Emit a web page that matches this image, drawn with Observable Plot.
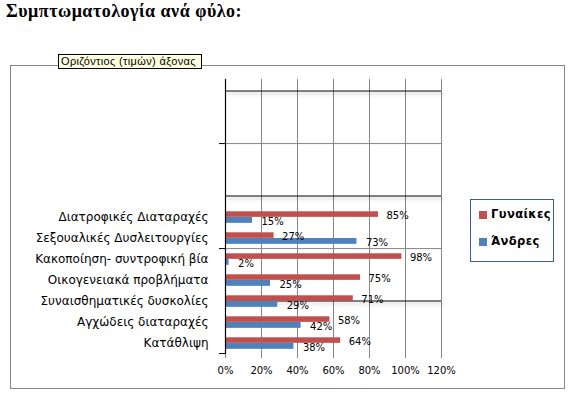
<!DOCTYPE html>
<html>
<head>
<meta charset="utf-8">
<script src="https://cdn.jsdelivr.net/npm/d3@7"></script>
<script src="https://cdn.jsdelivr.net/npm/@observablehq/plot@0.6"></script>
<style>
  html, body { margin: 0; padding: 0; background: #fff; }
  #wrap { position: relative; width: 575px; height: 393px; overflow: hidden; }
  #title { position: absolute; left: 6px; top: 1px; font: bold 18px "Liberation Serif", serif; letter-spacing: 0.5px; color: #000; white-space: nowrap; }
  #frame { position: absolute; left: 10px; top: 65px; width: 553px; height: 322px; border: 1px solid #868686; }
  #chart { position: absolute; left: 0; top: 0; }
  #tip { position: absolute; left: 58px; top: 54px; width: 140px; height: 13px; background: #FFFFE1; border: 1px solid #000;
         font: 11px "Liberation Sans", sans-serif; letter-spacing: 0.35px; line-height: 13px; padding-left: 2px; white-space: nowrap; }
  #legend { position: absolute; left: 470px; top: 199px; width: 82px; height: 61px; border: 1px solid #3B5E8C; background: #fff;
            font: bold 11.5px "DejaVu Sans", sans-serif; letter-spacing: 0.4px; }
  .item { position: absolute; left: 8px; height: 12px; line-height: 12px; white-space: nowrap; }
  .sw { display: inline-block; width: 8px; height: 8px; margin-right: 4px; vertical-align: -1px; }
</style>
</head>
<body>
<div id="wrap">
  <div id="title"></div>
  <div id="frame"></div>
  <div id="chart"></div>
  <div id="tip"></div>
  <div id="legend"></div>
</div>
<script>
// ---- data ----
const title = "Συμπτωματολογία ανά φύλο:";
const tipText = "Οριζόντιος (τιμών) άξονας";
const categories = [
  "Διατροφικές Διαταραχές",
  "Σεξουαλικές Δυσλειτουργίες",
  "Κακοποίηση- συντροφική βία",
  "Οικογενειακά προβλήματα",
  "Συναισθηματικές δυσκολίες",
  "Αγχώδεις διαταραχές",
  "Κατάθλιψη"
];
const women = [0.85, 0.27, 0.98, 0.75, 0.71, 0.58, 0.64];
const men   = [0.15, 0.73, 0.02, 0.25, 0.29, 0.42, 0.38];
const seriesNames = ["Γυναίκες", "Άνδρες"];
const seriesColors = ["#C0504D", "#4F81BD"];
const xTicks = [0, 0.2, 0.4, 0.6, 0.8, 1.0, 1.2];
// empty rows of the (glitched) category axis above the bars
const emptyRows = ["e1", "e2", "e3", "e4", "e5", "e6"];
const rows = [...emptyRows, ...categories];
// leftover lines of the glitched render
const blackLineRows = [emptyRows[0], emptyRows[5], categories[4]];
const tickRows = [emptyRows[2], categories[1], categories[6]];
const grayLineRows = [emptyRows[2], categories[1]];

// ---- build ----
document.getElementById("title").textContent = title;
document.getElementById("tip").textContent = tipText;

const W = 575, H = 393;
const mTop = 79, mBottom = 39, mLeft = 225, mRight = 134;
const step = (H - mTop - mBottom) / rows.length;
const pct = d3.format(".0%");

const womenData = categories.map((c, i) => ({c, v: women[i]}));
const menData = categories.map((c, i) => ({c, v: men[i]}));

const chart = Plot.plot({
  width: W, height: H,
  marginTop: mTop, marginBottom: mBottom, marginLeft: mLeft, marginRight: mRight,
  style: {fontFamily: "DejaVu Sans, sans-serif", fontSize: "10px", background: "transparent", color: "#000"},
  x: {domain: [0, 1.2], axis: null},
  y: {domain: rows, type: "band", padding: 0, axis: null},
  marks: [
    Plot.ruleX(xTicks.slice(1), {stroke: "#868686", strokeWidth: 1}),
    Plot.axisX(xTicks, {anchor: "bottom", label: null, tickFormat: pct, tickSize: 4, tickPadding: 8, stroke: "#868686", fill: "#000", fontSize: 10}),
    Plot.ruleY(grayLineRows, {dy: step / 2, stroke: "#868686", strokeWidth: 1}),
    Plot.ruleY(blackLineRows, {dy: 3.5, dx: 3, stroke: "#000", strokeOpacity: 0.025, strokeWidth: 6}),
    Plot.ruleY(blackLineRows, {dy: 2.5, dx: 2, stroke: "#000", strokeOpacity: 0.04, strokeWidth: 3}),
    Plot.ruleY(blackLineRows, {stroke: "#000", strokeWidth: 1.2}),
    Plot.barX(womenData, {x: "v", y: "c", fill: seriesColors[0], insetTop: 5.3, insetBottom: 10.15}),
    Plot.barX(menData, {x: "v", y: "c", fill: seriesColors[1], insetTop: 11, insetBottom: 4.15}),
    Plot.text(womenData, {x: "v", y: "c", text: d => pct(d.v), textAnchor: "start", dx: 8, dy: -1.5, fontSize: 10}),
    Plot.text(menData, {x: "v", y: "c", text: d => pct(d.v), textAnchor: "start", dx: 9, dy: 4.5, fontSize: 10}),
    Plot.ruleX([0], {stroke: "#000", strokeWidth: 1.2}),
    Plot.axisY(categories, {anchor: "left", label: null, tickSize: 0, tickPadding: 17, fontSize: 12}),
    Plot.axisY(tickRows, {anchor: "left", label: null, tickSize: 6, tickFormat: () => "", dy: step / 2, stroke: "#000"})
  ]
});
document.getElementById("chart").appendChild(chart);

const legend = document.getElementById("legend");
seriesNames.forEach((name, i) => {
  const it = document.createElement("div");
  it.className = "item";
  it.style.top = (i === 0 ? 8 : 35) + "px";
  const sw = document.createElement("span");
  sw.className = "sw";
  sw.style.background = seriesColors[i];
  it.appendChild(sw);
  it.appendChild(document.createTextNode(name));
  legend.appendChild(it);
});
</script>
</body>
</html>
